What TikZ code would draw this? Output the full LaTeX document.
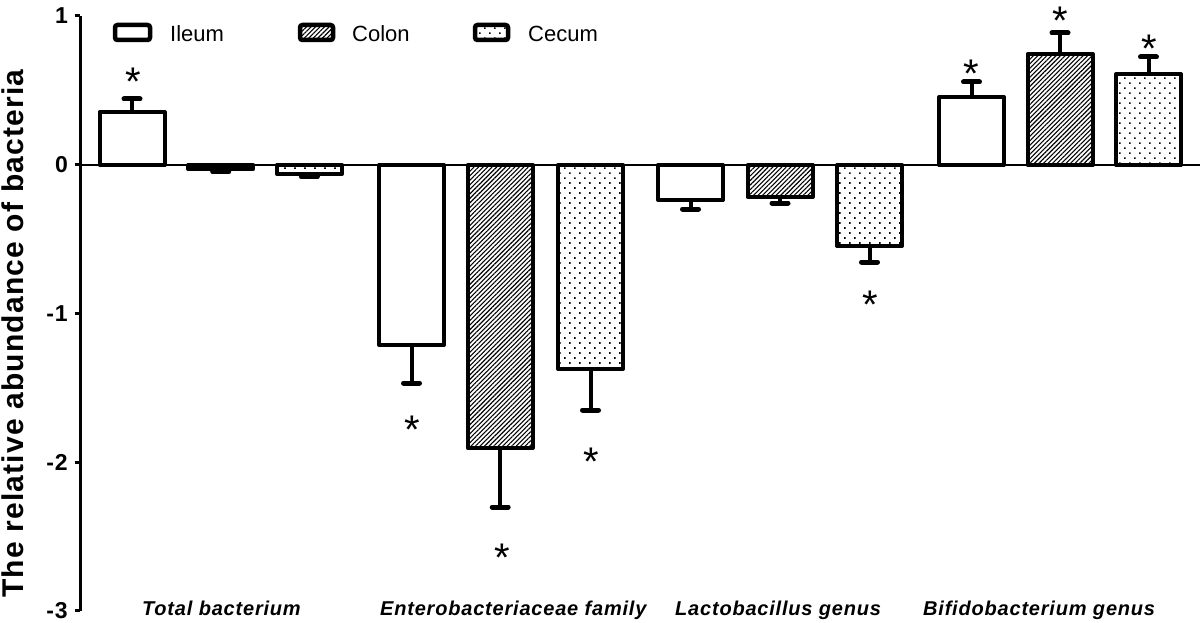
\documentclass[tikz,border=0pt]{standalone}
\usepackage{fontspec}
\setmainfont{Liberation Sans}
\newfontfamily\spacedfont[LetterSpace=4]{Liberation Sans}
\usetikzlibrary{patterns.meta}
\begin{document}
\begin{tikzpicture}[x=1pt,y=-1pt,
  barsty/.style={line width=4pt,line join=round,draw=black},
  ileum/.style={fill=white},
  colon/.style={fill=white,postaction={pattern={Lines[angle=45,distance=3.2pt,line width=1.1pt]}}},
  cecum/.style={fill=white,postaction={pattern={Dots[angle=45,distance=7.07pt,radius=1.15pt]}}},
  errline/.style={line width=4pt},
  errcap/.style={line width=5pt,line cap=round},
  starsty/.style={font=\fontsize{40}{40}\selectfont,inner sep=0pt,anchor=base,yshift=-23pt},
  axisline/.style={line width=3pt},
  zeroline/.style={line width=2.5pt},
  ticklab/.style={font=\spacedfont\bfseries\fontsize{23}{23}\selectfont,inner sep=0pt,anchor=east},
  catlab/.style={font=\spacedfont\bfseries\itshape\fontsize{20}{20}\selectfont,inner sep=0pt,anchor=base west},
  legbox/.style={line width=4.5pt,rounded corners=2.5pt,draw=black},
  legtext/.style={font=\fontsize{22}{22}\selectfont,inner sep=0pt,anchor=base west}
]
\useasboundingbox (0,0) rectangle (1200,623);
% axes
\draw[axisline] (80,16) -- (80,610.5);
\foreach \yy/\lab in {16/1,165/0,313.5/-1,462/-2,610.5/-3}{
  \draw[axisline] (74.5,\yy) -- (80,\yy);
  \node[ticklab] at (68,\yy) {\lab};
}
% bars
\foreach \cx/\ye/\yr/\st in {
  132/112/99/ileum, 220.7/169/172/colon, 309.4/174/177/cecum,
  411.5/345/383/ileum, 500.2/448/507/colon, 590.5/369/410/cecum,
  690.5/200/209/ileum, 780/197/203/colon, 869.5/246/262/cecum,
  971.5/97/82/ileum, 1060/54/33/colon, 1148.5/74/57/cecum}{
  \draw[errline] (\cx,\ye) -- (\cx,\yr);
  \draw[errcap] (\cx-8,\yr) -- (\cx+8,\yr);
  \draw[barsty,\st] (\cx-32.5,165) rectangle (\cx+32.5,\ye);
}
\draw[zeroline] (80,165) -- (1200,165);
% significance stars
\foreach \sx/\sy in {133/73, 412/420, 502/548, 591/452, 870/295, 971/65, 1060/12, 1149/40}{
  \node[starsty] at (\sx,\sy) {*};
}
% category labels
\node[catlab] (lt) at (142,615.5) {Total bacterium};
\node[catlab] (le) at (380,615.5) {Enterobacteriaceae family};
\node[catlab] (ll) at (675,615.5) {Lactobacillus genus};
\node[catlab] (lb) at (923,615.5) {Bifidobacterium genus};
% y label
\node[font=\spacedfont\bfseries\fontsize{30}{30}\selectfont,inner sep=0pt,rotate=90,anchor=base west] (ylab) at (23.5,598) {The relative abundance of bacteria};
% legend
\draw[legbox,ileum] (115,25) rectangle (150,40);
\node[legtext] (li) at (170,41.5) {Ileum};
\draw[legbox,colon] (300,25) rectangle (333,40);
\node[legtext] (lc) at (352,41.5) {Colon};
\draw[legbox,cecum] (475,25) rectangle (508,40);
\node[legtext] (lce) at (528,41.5) {Cecum};
\end{tikzpicture}
\end{document}
